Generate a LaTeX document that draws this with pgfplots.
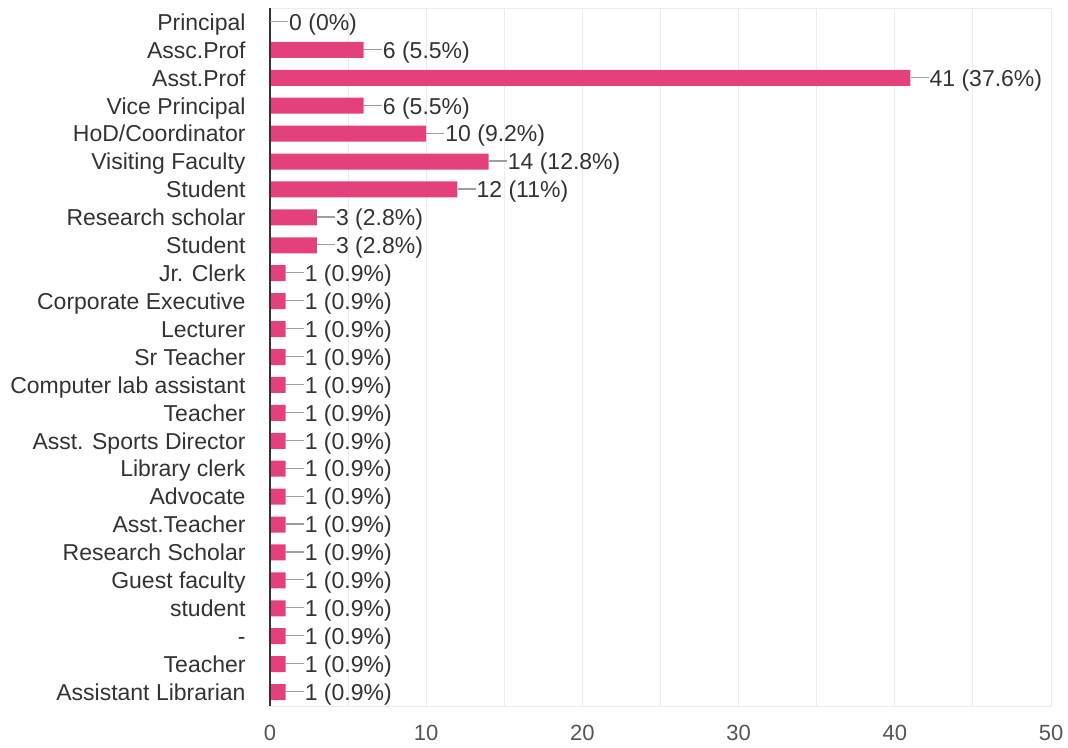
\documentclass[border=0pt]{standalone}
\usepackage{fontspec}
\setmainfont{Liberation Sans}
\usepackage{pgfplots}
\pgfplotsset{compat=1.18}
\definecolor{barpink}{HTML}{E4417C}
\definecolor{gridgray}{HTML}{EBEBEB}
\definecolor{leadgray}{HTML}{9E9E9E}
\definecolor{labcol}{HTML}{333333}
\definecolor{tickcol}{HTML}{555555}
\definecolor{axiscol}{HTML}{333333}
\begin{document}
\begin{tikzpicture}
\begin{axis}[
  at={(0,0)}, anchor=south west,
  scale only axis, width=781pt, height=698pt,
  xmin=0, xmax=50, ymin=-0.5, ymax=24.5, y dir=reverse,
  clip=false,
  xtick={0,10,...,50}, minor xtick={5,15,...,45},
  xmajorgrids, xminorgrids,
  major grid style={draw=gridgray, line width=1pt},
  minor grid style={draw=gridgray, line width=1pt},
  axis line style={draw=gridgray, line width=1pt},
  xtick style={draw=none}, ytick style={draw=none},
  minor tick length=0pt,
  ytick={0,...,24},
  yticklabels={Principal, Assc.Prof, Asst.Prof, Vice Principal, HoD/Coordinator, Visiting Faculty, Student, Research scholar, Student, Jr. Clerk, Corporate Executive, Lecturer, Sr Teacher, Computer lab assistant, Teacher, Asst. Sports Director, Library clerk, Advocate, Asst.Teacher, Research Scholar, Guest faculty, student, -, Teacher, Assistant Librarian},
  yticklabel style={font=\fontsize{23}{27}\selectfont, text=labcol, anchor=base east, inner sep=0pt, xshift=-20pt, yshift=-8.3pt},
  xticklabel style={font=\fontsize{22}{26}\selectfont, text=tickcol, anchor=north, inner sep=0pt, yshift=-19pt},
  /pgf/number format/assume math mode=true,
  xbar, bar width=16pt,
  point meta=explicit symbolic,
  nodes near coords={\textcolor{leadgray}{\rule[8.2pt]{18pt}{1.2pt}}\hspace{1pt}\pgfmathprintnumber{\pgfkeysvalueof{/data point/x}} (\pgfplotspointmeta\%)},
  every node near coord/.append style={anchor=base west, yshift=-8.3pt, inner sep=0pt, text=labcol, font=\fontsize{23}{27}\selectfont},
]
\addplot[fill=barpink, draw=none] table[x=v, y=i, meta=p] {
i v p
0 0 0
1 6 5.5
2 41 37.6
3 6 5.5
4 10 9.2
5 14 12.8
6 12 11
7 3 2.8
8 3 2.8
9 1 0.9
10 1 0.9
11 1 0.9
12 1 0.9
13 1 0.9
14 1 0.9
15 1 0.9
16 1 0.9
17 1 0.9
18 1 0.9
19 1 0.9
20 1 0.9
21 1 0.9
22 1 0.9
23 1 0.9
24 1 0.9
};
\draw[axiscol, line width=1.5pt] (axis cs:0,-0.5) -- (axis cs:0,24.5);
\end{axis}
\pgfresetboundingbox
\useasboundingbox (-270pt,-41pt) rectangle (798pt,706pt);
\end{tikzpicture}
\end{document}
